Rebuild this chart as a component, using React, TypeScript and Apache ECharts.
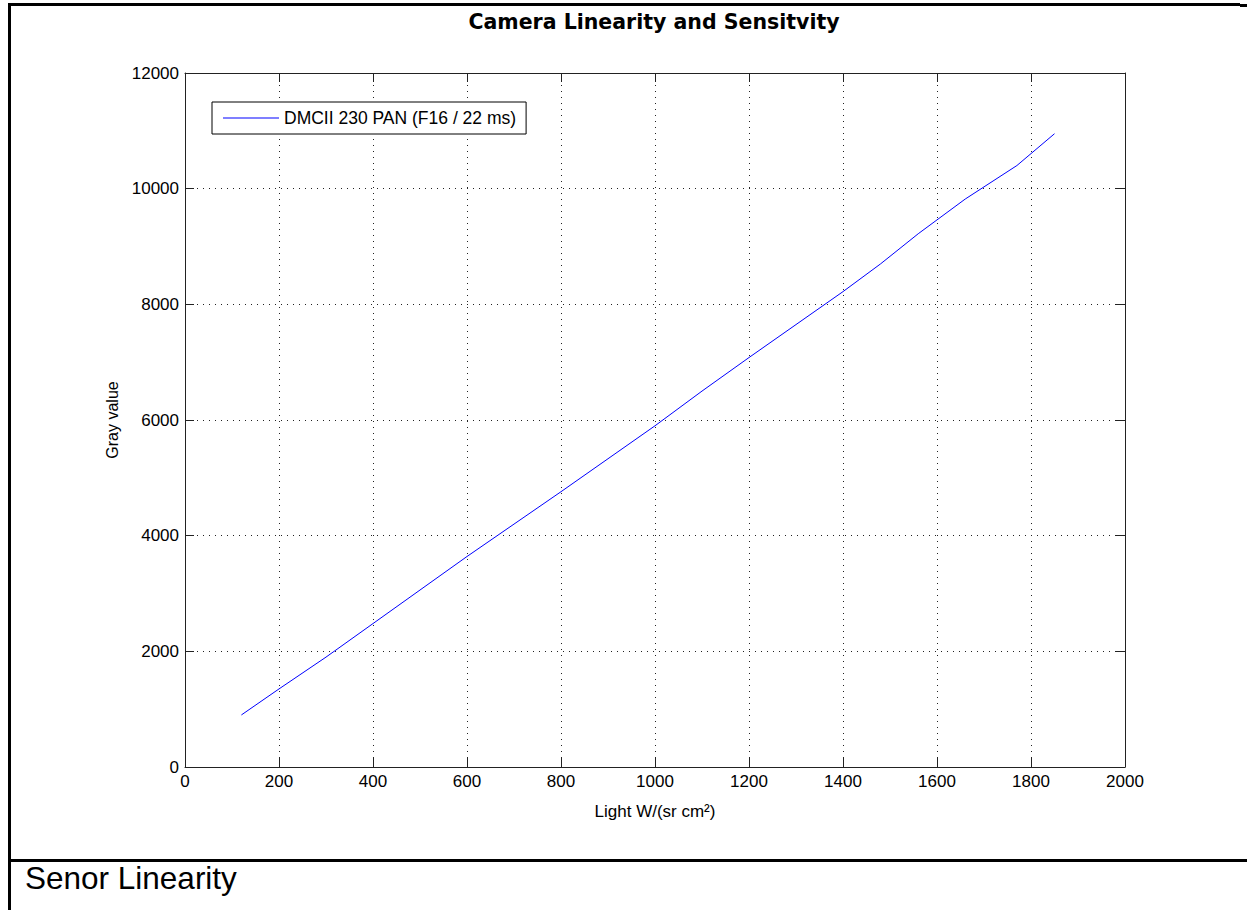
import React, { useEffect, useRef } from "react";
import * as echarts from "echarts";

// Measured sensor response: light level vs. mean gray value
const lightLevels = [120, 200, 300, 400, 500, 600, 700, 800, 900, 1000, 1100, 1200, 1300, 1400, 1480, 1560, 1660, 1770, 1850];
const grayValues = [900, 1350, 1900, 2480, 3060, 3640, 4200, 4760, 5330, 5900, 6500, 7080, 7650, 8220, 8700, 9220, 9820, 10400, 10950];

const seriesName = "DMCII 230 PAN (F16 / 22 ms)";
const chartTitle = "Camera Linearity and Sensitvity";
const xAxisTitle = "Light W/(sr cm²)";
const yAxisTitle = "Gray value";
const caption = "Senor Linearity";

const xMin = 0;
const xMax = 2000;
const xStep = 200;
const yMin = 0;
const yMax = 12000;
const yStep = 2000;

const FONT = "'Liberation Sans', Arial, sans-serif";
const INK = "#000";
const AXIS = "#222";

export default function App() {
  const ref = useRef<HTMLDivElement>(null);

  useEffect(() => {
    document.body.style.margin = "0";
    if (!ref.current) return;
    const chart = echarts.init(ref.current, undefined, { renderer: "svg" });

    const points = lightLevels.map((x, i) => [x, grayValues[i]]);
    const plain = (v: number) => String(v);

    // top and right edges of the box, ticks only
    const frameAxis = {
      axisLine: { show: true, onZero: false, lineStyle: { color: AXIS, width: 1 } },
      axisTick: { show: true, inside: true, length: 9, lineStyle: { color: AXIS } },
      axisLabel: { show: false },
      splitLine: { show: false },
    };

    chart.setOption({
      animation: false,
      backgroundColor: "#fff",
      title: {
        text: chartTitle,
        left: 649,
        textAlign: "center",
        top: 6,
        textStyle: {
          fontFamily: "'DejaVu Sans', Arial, sans-serif",
          fontWeight: "bold",
          fontSize: 20.5,
          color: INK,
        },
      },
      legend: {
        left: 212,
        top: 102,
        orient: "vertical",
        data: [seriesName],
        icon: "rect",
        backgroundColor: "#fff",
        borderColor: "#000",
        borderWidth: 1,
        borderRadius: 0,
        padding: [7, 10, 7, 11],
        itemWidth: 56,
        itemHeight: 1,
        textStyle: { fontFamily: FONT, fontSize: 17.5, color: INK, lineHeight: 18 },
      },
      grid: { left: 185, top: 73, width: 940, height: 694, containLabel: false },
      xAxis: [
        {
          type: "value",
          position: "bottom",
          min: xMin,
          max: xMax,
          interval: xStep,
          name: xAxisTitle,
          nameLocation: "middle",
          nameGap: 36,
          nameTextStyle: { fontFamily: FONT, fontSize: 17, color: INK },
          axisLine: { show: true, onZero: false, lineStyle: { color: AXIS, width: 1 } },
          axisTick: { show: true, inside: true, length: 9, lineStyle: { color: AXIS } },
          axisLabel: { fontFamily: FONT, fontSize: 17, color: INK, margin: 6, formatter: plain },
          splitLine: { show: true, lineStyle: { color: AXIS, width: 1, type: [1, 5] } },
        },
        { ...frameAxis, type: "value", position: "top", min: xMin, max: xMax, interval: xStep },
      ],
      yAxis: [
        {
          type: "value",
          position: "left",
          min: yMin,
          max: yMax,
          interval: yStep,
          name: yAxisTitle,
          nameLocation: "middle",
          nameGap: 60,
          nameRotate: 90,
          nameTextStyle: { fontFamily: FONT, fontSize: 16, color: INK },
          axisLine: { show: true, onZero: false, lineStyle: { color: AXIS, width: 1 } },
          axisTick: { show: true, inside: true, length: 9, lineStyle: { color: AXIS } },
          axisLabel: { fontFamily: FONT, fontSize: 17, color: INK, margin: 6, formatter: plain },
          splitLine: { show: true, lineStyle: { color: AXIS, width: 1, type: [1, 5] } },
        },
        { ...frameAxis, type: "value", position: "right", min: yMin, max: yMax, interval: yStep },
      ],
      series: [
        {
          name: seriesName,
          type: "line",
          xAxisIndex: 0,
          yAxisIndex: 0,
          data: points,
          symbol: "none",
          lineStyle: { color: "#0000ff", width: 1 },
          itemStyle: { color: "#0000ff" },
        },
      ],
      graphic: [
        // page frame
        { type: "rect", shape: { x: 8, y: 3, width: 3, height: 907 }, style: { fill: "#000" } },
        { type: "rect", shape: { x: 8, y: 3, width: 1232, height: 3 }, style: { fill: "#000" } },
        { type: "rect", shape: { x: 1240, y: 4, width: 7, height: 3 }, style: { fill: "#000" } },
        { type: "rect", shape: { x: 8, y: 859, width: 1239, height: 3 }, style: { fill: "#000" } },
        {
          type: "text",
          x: 25,
          y: 862,
          style: {
            text: caption,
            fontFamily: FONT,
            fontSize: 31.5,
            fill: "#000",
            textVerticalAlign: "top",
          },
        },
      ],
    });

    return () => chart.dispose();
  }, []);

  return <div ref={ref} style={{ width: 1247, height: 910 }} />;
}
